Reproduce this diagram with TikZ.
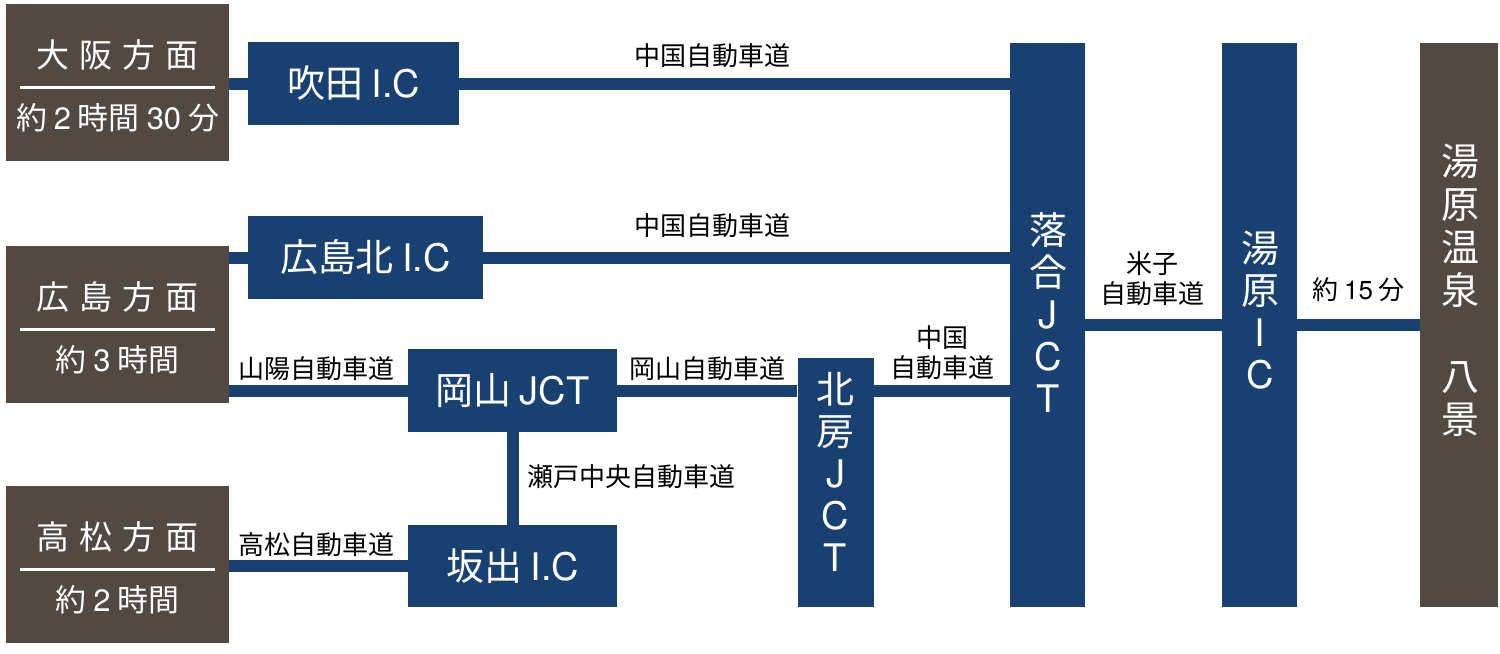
\documentclass[tikz,border=0pt]{standalone}
\usepackage{fontspec}
\setmainfont{Noto Sans CJK JP}
\newfontfamily\heros{TeX Gyre Heros}
\definecolor{roadblue}{RGB}{24,65,113}
\definecolor{areabrown}{RGB}{82,73,66}
\newcommand{\tgap}{\hspace{5.7pt}}
\newcommand{\en}[1]{{\heros #1}}

\begin{document}
\begin{tikzpicture}[x=0.02cm,y=-0.02cm,
  box/.style 2 args={rectangle,inner sep=0pt,minimum width=#1*0.02cm,minimum height=#2*0.02cm},
  area/.style={fill=areabrown},
  ic/.style={fill=roadblue,text=white,font=\fontsize{21.6pt}{24pt}\selectfont},
  areatitle/.style={text=white,inner sep=0pt,font=\fontsize{18.8pt}{20pt}\selectfont},
  areatime/.style={text=white,inner sep=0pt,font=\fontsize{17.6pt}{20pt}\selectfont},
  vtext/.style={text=white,inner sep=0pt,align=center,font=\fontsize{21.6pt}{23.9pt}\selectfont},
  divider/.style={white,line width=0.06cm},
  road/.style={roadblue,line width=0.24cm},
  lbl/.style={inner sep=0pt,align=center,font=\fontsize{14.8pt}{17pt}\selectfont}]
  \useasboundingbox (0,0) rectangle (1500,653);
  % areas on the left
  \foreach \n/\t/\ttl/\tm in {
    osaka/4/大\tgap 阪\tgap 方\tgap 面/約 \en{2} 時間 \en{30} 分,
    hiroshima/246/広\tgap 島\tgap 方\tgap 面/約 \en{3} 時間,
    takamatsu/486/高\tgap 松\tgap 方\tgap 面/約 \en{2} 時間%
  }
  {
    \node[area,box={223}{157}] (\n) at (117.5,\t+78.5) {};
    \node[areatitle] (\n-title) at (117.5,\t+51) {\ttl};
    \draw[divider] (20,\t+83.5) -- (215,\t+83.5);
    \node[areatime] (\n-time) at (117.5,\t+114) {\tm};
  }
  % interchanges
  \node[ic,box={211}{83}] (suita) at (353.5,83.5) {吹田 \en{I.C}};
  \node[ic,box={235}{83}] (kita) at (365.5,257.5) {広島北 \en{I.C}};
  \node[ic,box={209}{83}] (okayama) at (512.5,390.5) {岡山 \en{JCT}};
  \node[ic,box={209}{82}] (sakaide) at (512.5,566) {坂出 \en{I.C}};
  \node[ic,box={76}{249}] (hokubo) at (835.5,482.5) {};
  \node[ic,box={75}{564}] (ochiai) at (1047.5,325) {};
  \node[ic,box={75}{564}] (yubara) at (1259.5,325) {};
  \node[area,box={78}{564}] (onsen) at (1459,325) {};
  \node[vtext] (hokubo-text) at (835.5,471.5) {北\\房\\\en{J}\\\en{C}\\\en{T}};
  \node[vtext] (ochiai-text) at (1048,313) {落\\合\\\en{J}\\\en{C}\\\en{T}};
  \node[vtext] (yubara-text) at (1260,310) {湯\\原\\\en{I}\\\en{C}};
  \node[vtext,font=\fontsize{21.6pt}{24.5pt}\selectfont] (onsen-text) at (1460,290.5)
    {湯\\原\\温\\泉\\[24.5pt]八\\景};
  % roads
  \draw[road] (osaka.east |- suita.west) -- (suita.west);
  \draw[road] (suita.east) -- (suita.east -| ochiai.west);
  \draw[road] (hiroshima.east |- kita.west) -- (kita.west);
  \draw[road] (kita.east) -- (kita.east -| ochiai.west);
  \draw[road] (hiroshima.east |- okayama.west) -- (okayama.west);
  \draw[road] (okayama.east) -- (okayama.east -| hokubo.west);
  \draw[road] (okayama.east -| hokubo.east) -- (okayama.east -| ochiai.west);
  \draw[road] (okayama.south) -- (sakaide.north);
  \draw[road] (takamatsu.east |- sakaide.west) -- (sakaide.west);
  \draw[road] (ochiai.east) -- (yubara.west);
  \draw[road] (yubara.east) -- (onsen.west);
  % road names
  \node[lbl] (chugoku-a) at (712.5,56) {中国自動車道};
  \node[lbl] (chugoku-b) at (712.5,226) {中国自動車道};
  \node[lbl] (sanyo) at (316.5,369) {山陽自動車道};
  \node[lbl] (okayama-road) at (707,369) {岡山自動車道};
  \node[lbl] (chugoku-c) at (942,353) {中国\\自動車道};
  \node[lbl,anchor=west] (seto) at (527,476.5) {瀬戸中央自動車道};
  \node[lbl] (takamatsu-road) at (316.5,545) {高松自動車道};
  \node[lbl] (yonago) at (1152,278.5) {米子\\自動車道};
  \node[lbl] (time-onsen) at (1358.5,290) {約 \en{15} 分};
\end{tikzpicture}
\end{document}
